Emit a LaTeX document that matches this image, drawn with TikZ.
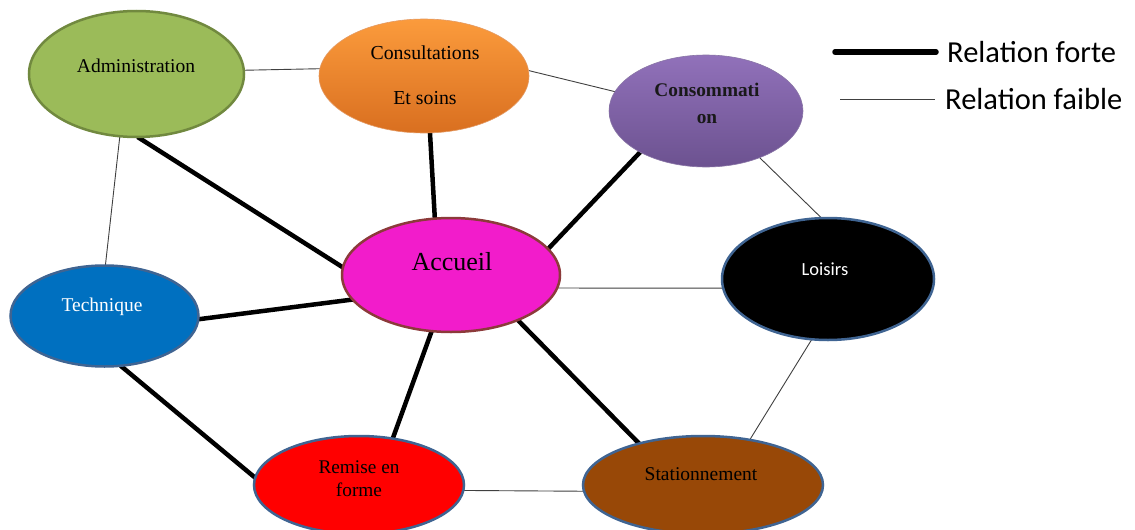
\documentclass[tikz,border=0pt]{standalone}
\usepackage{fontspec}
\setmainfont{Liberation Serif}
\newfontfamily\calibrifont{Carlito}
\usetikzlibrary{shapes.geometric,backgrounds}
\definecolor{admgreen}{HTML}{9BBB59}
\definecolor{admborder}{HTML}{71893F}
\definecolor{constop}{HTML}{FB9B3C}
\definecolor{consbot}{HTML}{D96F20}
\definecolor{csotop}{HTML}{9171BA}
\definecolor{csobot}{HTML}{6C5290}
\definecolor{accmag}{HTML}{F21CCB}
\definecolor{accborder}{HTML}{8C3A3A}
\definecolor{blueborder}{HTML}{3F6492}
\definecolor{techblue}{HTML}{0070C0}
\definecolor{statbrown}{HTML}{984807}
\tikzset{
  ell/.style={ellipse, inner sep=0pt, outer sep=0pt, line width=2.5pt},
  strong/.style={line width=4.5pt, black},
  weak/.style={line width=0.9pt, black!75},
  lbl/.style={inner sep=0pt, align=center, font=\fontsize{19.5}{23}\selectfont},
  legend/.style={inner sep=0pt, font=\calibrifont\fontsize{30.5}{34}\selectfont}
}
\begin{document}
\begin{tikzpicture}[x=1pt,y=-1pt]
\useasboundingbox (0,0) rectangle (1135,530);
\clip (0,0) rectangle (1135,530);
% ellipses
\node[ell, minimum width=215pt, minimum height=126pt, fill=admgreen, draw=admborder] (adm) at (136.5,74) {};
\node[ell, minimum width=210pt, minimum height=114pt, top color=constop, bottom color=consbot, draw=consbot!70, line width=0.6pt] (cons) at (424,76) {};
\node[ell, minimum width=194pt, minimum height=112pt, top color=csotop, bottom color=csobot, draw=csobot!80, line width=0.6pt] (cso) at (706,111) {};
\node[ell, minimum width=218pt, minimum height=114pt, fill=accmag, draw=accborder] (acc) at (451,275) {};
\node[ell, minimum width=212pt, minimum height=122pt, fill=black, draw=blueborder] (loi) at (828,279) {};
\node[ell, minimum width=188pt, minimum height=101pt, fill=techblue, draw=blueborder] (tec) at (104.5,316) {};
\node[ell, minimum width=210pt, minimum height=98pt, fill=red, draw=blueborder] (rem) at (359,485) {};
\node[ell, minimum width=240pt, minimum height=98pt, fill=statbrown, draw=blueborder] (sta) at (703,485) {};
% texts
\node[lbl] (admt) at (136,66) {Administration};
\node[lbl, font=\fontsize{19.8}{45}\selectfont] (const) at (425,75.5) {Consultations\\Et soins};
\node[lbl, font=\bfseries\fontsize{19.3}{27}\selectfont, text=black!90] (csot) at (707,103.5) {Consommati\\on};
\node[lbl, font=\fontsize{26}{30}\selectfont] (acct) at (452,262) {Accueil};
\node[lbl, font=\calibrifont\fontsize{18.5}{22}\selectfont, text=white] (loit) at (825,269) {Loisirs};
\node[lbl, text=white] (tect) at (102,307) {Technique};
\node[lbl, font=\fontsize{19.3}{23}\selectfont] (remt) at (359,478.5) {Remise en\\forme};
\node[lbl] (stat) at (701,474) {Stationnement};
% connectors
\begin{scope}[on background layer]
\fill[white] (0,0) rectangle (1135,530);
\draw[strong] (adm.-89) -- (acc.176);
\draw[strong] (cons.-84) -- (acc.106);
\draw[strong] (cso.-148) -- (acc.15);
\draw[strong] (tec.-2) -- (acc.-166);
\draw[strong] (tec.-72) -- (rem.176);
\draw[strong] (acc.-109) -- (rem.54);
\draw[strong] (acc.-34) -- (sta.147);
\draw[weak] (adm.2) -- (cons.176);
\draw[weak] (cons.3) -- (cso.168);
\draw[weak] (adm.-105) -- (tec.89);
\draw[weak] (cso.-41) -- (loi.96);
\draw[weak] (acc.-7) -- (loi.-175);
\draw[weak] (loi.-105) -- (sta.44);
\draw[weak] (rem.-3) -- (sta.-177);
\end{scope}
% legend
\coordinate (f1) at (835,52);
\coordinate (f2) at (936,52);
\draw[line width=5.5pt, line cap=round] (f1) -- (f2);
\node[legend, anchor=west] (lf) at (947,52) {Relation forte};
\coordinate (w1) at (840,99);
\coordinate (w2) at (935,99);
\draw[weak] (w1) -- (w2);
\node[legend, anchor=west] (lw) at (945,99) {Relation faible};
\end{tikzpicture}
\end{document}
